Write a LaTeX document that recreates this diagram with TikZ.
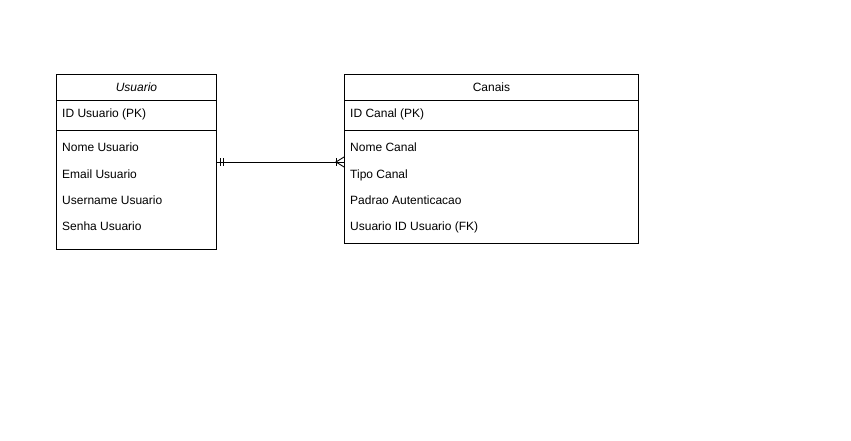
\documentclass[tikz,border=0pt]{standalone}
\usepackage{fontspec}
\setmainfont{Liberation Sans}
\usetikzlibrary{positioning, calc}
\tikzset{
	% entity table parts
	entity/.style  ={rectangle, draw=black, line width=0.9pt, inner sep=0pt, anchor=north west},
	tblline/.style ={line width=0.9pt},
	field/.style   ={anchor=base west, inner sep=0pt},
	rel/.style     ={line width=0.9pt},
}
\begin{document}
\begin{tikzpicture}[x=1pt, y=-1pt, font=\fontsize{12}{14}\selectfont]
	\useasboundingbox (0,0) rectangle (851,441);
	% Usuario
	\node[entity, minimum width=160pt, minimum height=175pt] (usuario) at (56,74) {};
	\node[anchor=base] (usrHead) at ($(usuario.north)+(0,18)$) {\itshape Usuario};
	\draw[tblline] ($(usuario.north west)+(0,26)$) -- ($(usuario.north east)+(0,26)$);
	\draw[tblline] ($(usuario.north west)+(0,56)$) -- ($(usuario.north east)+(0,56)$);
	\node[field] (usrId) at (62,118) {ID Usuario (PK)};
	\foreach \f [count=\i] in {Nome Usuario, Email Usuario, Username Usuario, Senha Usuario}
		\node[field] (usrF\i) at (62,126+26*\i) {\f};
	% Canais
	\node[entity, minimum width=294pt, minimum height=169pt] (canais) at (344,74) {};
	\node[anchor=base] (canHead) at ($(canais.north)+(0,18)$) {Canais};
	\draw[tblline] ($(canais.north west)+(0,26)$) -- ($(canais.north east)+(0,26)$);
	\draw[tblline] ($(canais.north west)+(0,56)$) -- ($(canais.north east)+(0,56)$);
	\node[field] (canId) at (350,118) {ID Canal (PK)};
	\foreach \f [count=\i] in {Nome Canal, Tipo Canal, Padrao Autenticacao, Usuario ID Usuario (FK)}
		\node[field] (canF\i) at (350,126+26*\i) {\f};
	% relationship: one and only one -- one or many
	\coordinate (relA) at (usuario.east |- 0,162);
	\coordinate (relB) at (canais.west |- 0,162);
	\draw[rel] (relA) -- (relB);
	\draw[rel] ($(relA)+(4,-4)$) -- ($(relA)+(4,4)$);
	\draw[rel] ($(relA)+(7,-4)$) -- ($(relA)+(7,4)$);
	\draw[rel] ($(relB)+(-8,-4)$) -- ($(relB)+(-8,4)$);
	\draw[rel] ($(relB)+(0,-5)$) -- ($(relB)+(-8,0)$) -- ($(relB)+(0,5)$);
\end{tikzpicture}
\end{document}
